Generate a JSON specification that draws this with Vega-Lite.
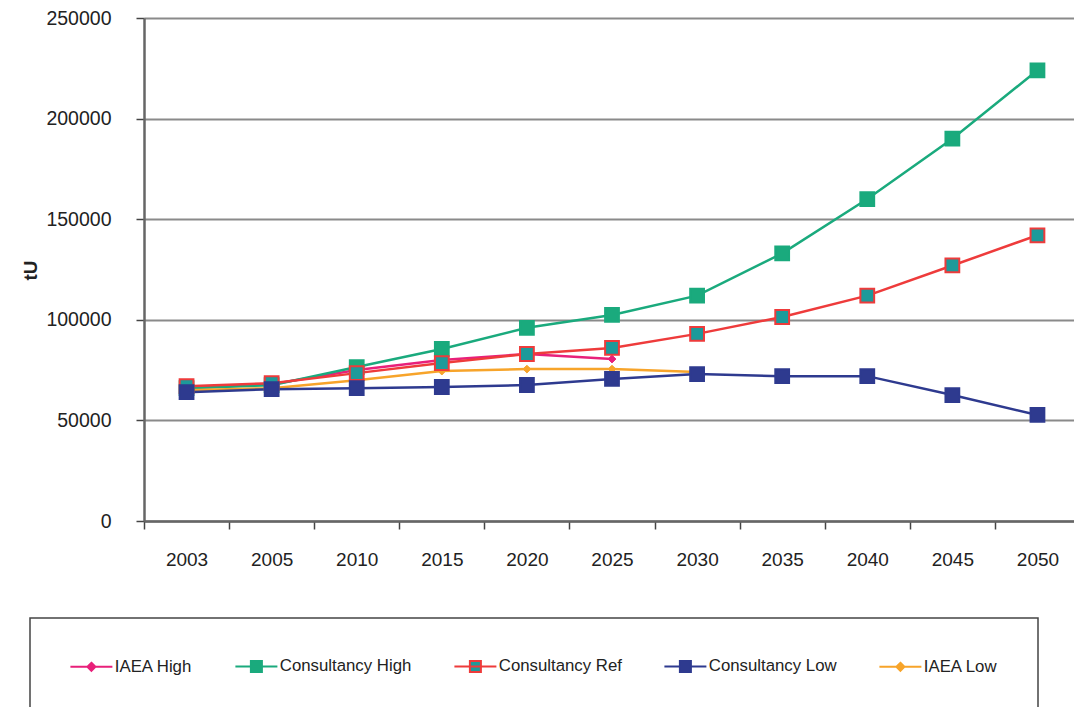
{
  "$schema": "https://vega.github.io/schema/vega-lite/v6.json",
  "autosize": "none",
  "width": 930,
  "height": 503,
  "padding": {"left": 144, "top": 18, "right": 0, "bottom": 186},
  "background": "white",
  "config": {
    "view": {"stroke": null},
    "font": "Liberation Sans",
    "axis": {"labelFont": "Liberation Sans", "titleFont": "Liberation Sans"}
  },
  "data": {
    "values": [
      {"year": "2003", "series": "IAEA High", "value": 66000},
      {"year": "2005", "series": "IAEA High", "value": 68000},
      {"year": "2010", "series": "IAEA High", "value": 75000},
      {"year": "2015", "series": "IAEA High", "value": 80000},
      {"year": "2020", "series": "IAEA High", "value": 83000},
      {"year": "2025", "series": "IAEA High", "value": 80500},
      {"year": "2003", "series": "Consultancy High", "value": 66000},
      {"year": "2005", "series": "Consultancy High", "value": 67500},
      {"year": "2010", "series": "Consultancy High", "value": 76500},
      {"year": "2015", "series": "Consultancy High", "value": 85500},
      {"year": "2020", "series": "Consultancy High", "value": 96000},
      {"year": "2025", "series": "Consultancy High", "value": 102400},
      {"year": "2030", "series": "Consultancy High", "value": 112000},
      {"year": "2035", "series": "Consultancy High", "value": 133000},
      {"year": "2040", "series": "Consultancy High", "value": 160000},
      {"year": "2045", "series": "Consultancy High", "value": 190000},
      {"year": "2050", "series": "Consultancy High", "value": 224000},
      {"year": "2003", "series": "Consultancy Ref", "value": 67000},
      {"year": "2005", "series": "Consultancy Ref", "value": 68500},
      {"year": "2010", "series": "Consultancy Ref", "value": 73500},
      {"year": "2015", "series": "Consultancy Ref", "value": 78500},
      {"year": "2020", "series": "Consultancy Ref", "value": 83000},
      {"year": "2025", "series": "Consultancy Ref", "value": 86000},
      {"year": "2030", "series": "Consultancy Ref", "value": 93000},
      {"year": "2035", "series": "Consultancy Ref", "value": 101400},
      {"year": "2040", "series": "Consultancy Ref", "value": 112000},
      {"year": "2045", "series": "Consultancy Ref", "value": 127000},
      {"year": "2050", "series": "Consultancy Ref", "value": 142000},
      {"year": "2003", "series": "IAEA Low", "value": 65000},
      {"year": "2005", "series": "IAEA Low", "value": 66000},
      {"year": "2010", "series": "IAEA Low", "value": 70000},
      {"year": "2015", "series": "IAEA Low", "value": 74500},
      {"year": "2020", "series": "IAEA Low", "value": 75500},
      {"year": "2025", "series": "IAEA Low", "value": 75500},
      {"year": "2030", "series": "IAEA Low", "value": 74000},
      {"year": "2003", "series": "Consultancy Low", "value": 64000},
      {"year": "2005", "series": "Consultancy Low", "value": 65500},
      {"year": "2010", "series": "Consultancy Low", "value": 66000},
      {"year": "2015", "series": "Consultancy Low", "value": 66600},
      {"year": "2020", "series": "Consultancy Low", "value": 67600},
      {"year": "2025", "series": "Consultancy Low", "value": 70600},
      {"year": "2030", "series": "Consultancy Low", "value": 73000},
      {"year": "2035", "series": "Consultancy Low", "value": 72000},
      {"year": "2040", "series": "Consultancy Low", "value": 72000},
      {"year": "2045", "series": "Consultancy Low", "value": 62600},
      {"year": "2050", "series": "Consultancy Low", "value": 52700}
    ]
  },
  "encoding": {
    "x": {
      "field": "year",
      "type": "ordinal",
      "bandPosition": 0.5,
      "scale": {"type": "band", "paddingInner": 0, "paddingOuter": 0, "range": [0, 936]},
      "axis": {
        "title": null,
        "labelAngle": 0,
        "labelFontSize": 19,
        "labelColor": "#222222",
        "labelPadding": 21,
        "tickBand": "extent",
        "tickSize": 8,
        "tickColor": "#444444",
        "tickWidth": 1.5,
        "domainColor": "#666666",
        "domainWidth": 2.5,
        "grid": false
      }
    },
    "y": {
      "field": "value",
      "type": "quantitative",
      "scale": {"domain": [0, 250000], "nice": false},
      "axis": {
        "title": "tU",
        "titleFontSize": 19,
        "titleFontWeight": "bold",
        "titleColor": "#222222",
        "titleX": -114,
        "titleY": 252,
        "titleAngle": -90,
        "titleBaseline": "middle",
        "titleAlign": "center",
        "values": [0, 50000, 100000, 150000, 200000, 250000],
        "format": "d",
        "labelFontSize": 19.5,
        "labelColor": "#222222",
        "labelPadding": 25,
        "tickSize": 8,
        "tickColor": "#444444",
        "tickWidth": 1.5,
        "domainColor": "#666666",
        "domainWidth": 2.5,
        "grid": true,
        "gridColor": "#8a8a8a",
        "gridWidth": 1.8
      }
    }
  },
  "layer": [
    {
      "mark": {"type": "line", "strokeWidth": 2.5},
      "encoding": {
        "color": {
          "field": "series",
          "type": "nominal",
          "scale": {
            "domain": ["IAEA High", "Consultancy High", "Consultancy Ref", "Consultancy Low", "IAEA Low"],
            "range": ["#e8207a", "#1aaa7d", "#ee3b3b", "#2e3a8f", "#f7a42a"]
          },
          "sort": null,
          "legend": {
            "title": null,
            "orient": "none",
            "legendX": -114,
            "legendY": 600,
            "direction": "horizontal",
            "columns": 5,
            "padding": 40,
            "strokeColor": "#444444",
            "fillColor": "white",
            "labelFont": "Liberation Sans",
            "labelFontSize": 16.8,
            "labelColor": "#222222",
            "labelOffset": 28,
            "columnPadding": 38,
            "symbolSize": 100,
            "symbolStrokeWidth": 2,
            "encode": {
              "legend": {"update": {"strokeWidth": {"value": 1.5}}},
              "symbols": {
                "update": {
                  "shape": {"signal": "datum.value == 'IAEA High' || datum.value == 'IAEA Low' ? 'M-1.6,0H6.8M2.6,-0.8L3.4,0L2.6,0.8L1.8,0Z' : 'M-1.6,0H6.8M1.5,-1.1H3.7V1.1H1.5Z'"},
                  "fill": {"signal": "datum.value == 'IAEA High' ? '#e8207a' : datum.value == 'Consultancy High' ? '#1aaa7d' : datum.value == 'Consultancy Ref' ? '#1d9a9a' : datum.value == 'Consultancy Low' ? '#2e3a8f' : '#f7a42a'"},
                  "stroke": {"signal": "datum.value == 'IAEA High' ? '#e8207a' : datum.value == 'Consultancy High' ? '#1aaa7d' : datum.value == 'Consultancy Ref' ? '#ee3b3b' : datum.value == 'Consultancy Low' ? '#2e3a8f' : '#f7a42a'"},
                  "opacity": {"value": 1}
                }
              }
            }
          }
        }
      }
    },
    {
      "transform": [{"filter": "indexof(datum.series, 'IAEA') == 0"}],
      "mark": {"type": "point", "shape": "diamond", "filled": true, "size": 60, "strokeWidth": 1, "opacity": 1},
      "encoding": {
        "fill": {
          "field": "series",
          "type": "nominal",
          "scale": {
            "domain": ["IAEA High", "Consultancy High", "Consultancy Ref", "Consultancy Low", "IAEA Low"],
            "range": ["#e8207a", "#1aaa7d", "#1d9a9a", "#2e3a8f", "#f7a42a"]
          },
          "legend": null
        },
        "stroke": {
          "field": "series",
          "type": "nominal",
          "scale": {
            "domain": ["IAEA High", "Consultancy High", "Consultancy Ref", "Consultancy Low", "IAEA Low"],
            "range": ["#e8207a", "#1aaa7d", "#ee3b3b", "#2e3a8f", "#f7a42a"]
          },
          "legend": null
        }
      }
    },
    {
      "transform": [{"filter": "indexof(datum.series, 'Consultancy') == 0"}],
      "mark": {"type": "point", "shape": "square", "filled": true, "size": 190, "strokeWidth": 2, "opacity": 1},
      "encoding": {
        "fill": {"field": "series", "type": "nominal", "legend": null},
        "stroke": {"field": "series", "type": "nominal", "legend": null}
      }
    }
  ]
}
